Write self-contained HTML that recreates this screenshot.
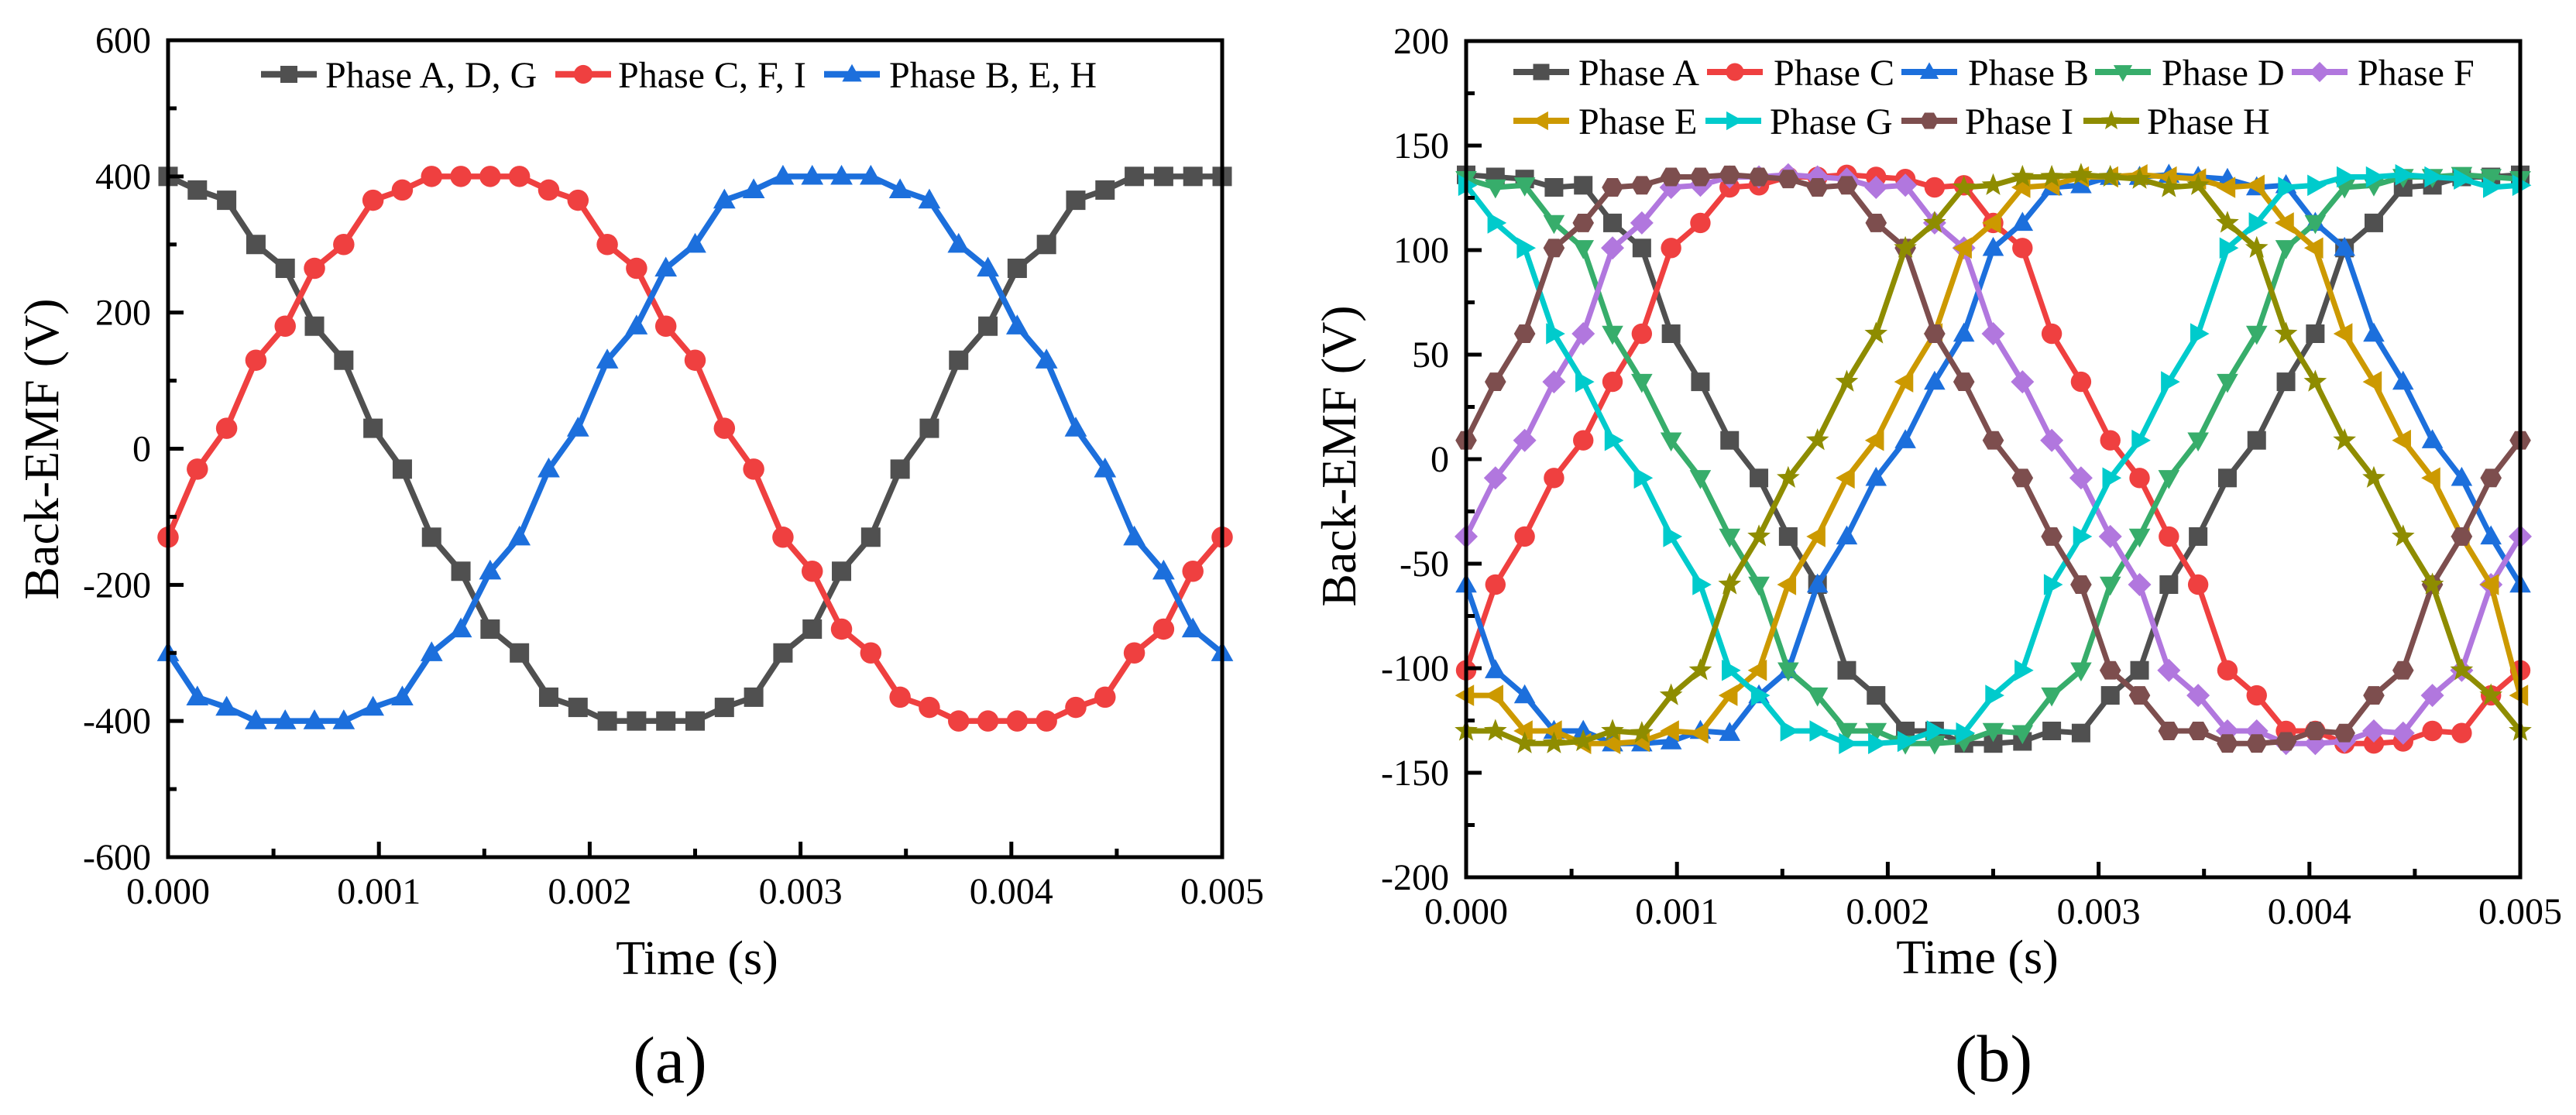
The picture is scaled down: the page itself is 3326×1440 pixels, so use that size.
<!DOCTYPE html>
<html><head><meta charset="utf-8"><style>
html,body{margin:0;padding:0;background:#fff;}
svg{display:block;font-family:"Liberation Serif",serif;}
</style></head><body>
<svg id="fig" width="3326" height="1440" viewBox="0 0 3326 1440" xmlns="http://www.w3.org/2000/svg"></svg>
<script>
// ---------- data ----------
const timeTicks = ["0.000","0.001","0.002","0.003","0.004","0.005"];
const timeTickValues = [0,0.001,0.002,0.003,0.004,0.005];
const leftYTicks = [-600,-400,-200,0,200,400,600];
const rightYTicks = [-200,-150,-100,-50,0,50,100,150,200];
const sampleCount = 37;

// Figure (a)
const aPhaseADG = [400,380,365,300,265,180,130,30,-30,-130,-180,-265,-300,-365,-380,-400,-400,-400,-400,-380,-365,-300,-265,-180,-130,-30,30,130,180,265,300,365,380,400,400,400,400];
const aPhaseCFI = [-130,-30,30,130,180,265,300,365,380,400,400,400,400,380,365,300,265,180,130,30,-30,-130,-180,-265,-300,-365,-380,-400,-400,-400,-400,-380,-365,-300,-265,-180,-130];
const aPhaseBEH = [-300,-365,-380,-400,-400,-400,-400,-380,-365,-300,-265,-180,-130,-30,30,130,180,265,300,365,380,400,400,400,400,380,365,300,265,180,130,30,-30,-130,-180,-265,-300];

// Figure (b)
const bPhaseA = [136,135,134,130,131,113,101,60,37,9,-9,-37,-60,-101,-113,-130,-130,-136,-136,-135,-130,-131,-113,-101,-60,-37,-9,9,37,60,101,113,130,131,135,135,136];
const bPhaseC = [-101,-60,-37,-9,9,37,60,101,113,130,131,135,135,136,135,134,130,131,113,101,60,37,9,-9,-37,-60,-101,-113,-130,-130,-136,-136,-135,-130,-131,-113,-101];
const bPhaseB = [-60,-101,-113,-130,-130,-136,-136,-135,-130,-131,-113,-101,-60,-37,-9,9,37,60,101,113,130,131,135,135,136,135,134,130,131,113,101,60,37,9,-9,-37,-60];
const bPhaseD = [134,130,131,113,101,60,37,9,-9,-37,-60,-101,-113,-130,-130,-136,-136,-135,-130,-131,-113,-101,-60,-37,-9,9,37,60,101,113,130,131,135,135,136,135,134];
const bPhaseF = [-37,-9,9,37,60,101,113,130,131,135,135,136,135,134,130,131,113,101,60,37,9,-9,-37,-60,-101,-113,-130,-130,-136,-136,-135,-130,-131,-113,-101,-60,-37];
const bPhaseE = [-113,-113,-130,-130,-136,-136,-135,-130,-131,-113,-101,-60,-37,-9,9,37,60,101,113,130,131,135,135,136,135,134,130,131,113,101,60,37,9,-9,-37,-60,-113];
const bPhaseG = [131,113,101,60,37,9,-9,-37,-60,-101,-113,-130,-130,-136,-136,-135,-130,-131,-113,-101,-60,-37,-9,9,37,60,101,113,130,131,135,135,136,135,134,130,131];
const bPhaseI = [9,37,60,101,113,130,131,135,135,136,135,134,130,131,113,101,60,37,9,-9,-37,-60,-101,-113,-130,-130,-136,-136,-135,-130,-131,-113,-101,-60,-37,-9,9];
const bPhaseH = [-130,-130,-136,-136,-135,-130,-131,-113,-101,-60,-37,-9,9,37,60,101,113,130,131,135,135,136,135,134,130,131,113,101,60,37,9,-9,-37,-60,-101,-113,-130];

// ---------- helpers ----------
const NS = "http://www.w3.org/2000/svg";
const fig = document.getElementById("fig");
function mk(tag, attrs, parent){
  const e = document.createElementNS(NS, tag);
  for (const k in attrs) e.setAttribute(k, attrs[k]);
  (parent||fig).appendChild(e);
  return e;
}
function marker(g, shape, x, y, s, color){
  let e;
  const h = s/2;
  if (shape==="square") e = mk("rect",{x:x-h,y:y-h,width:s,height:s,fill:color},g);
  else if (shape==="circle") e = mk("circle",{cx:x,cy:y,r:h*1.1,fill:color},g);
  else if (shape==="up") e = mk("polygon",{points:`${x},${y-h*1.2} ${x-h*1.15},${y+h*0.85} ${x+h*1.15},${y+h*0.85}`,fill:color},g);
  else if (shape==="down") e = mk("polygon",{points:`${x},${y+h*1.2} ${x-h*1.15},${y-h*0.85} ${x+h*1.15},${y-h*0.85}`,fill:color},g);
  else if (shape==="diamond") e = mk("polygon",{points:`${x},${y-h*1.25} ${x+h*1.25},${y} ${x},${y+h*1.25} ${x-h*1.25},${y}`,fill:color},g);
  else if (shape==="left") e = mk("polygon",{points:`${x-h*1.2},${y} ${x+h*0.85},${y-h*1.15} ${x+h*0.85},${y+h*1.15}`,fill:color},g);
  else if (shape==="right") e = mk("polygon",{points:`${x+h*1.2},${y} ${x-h*0.85},${y-h*1.15} ${x-h*0.85},${y+h*1.15}`,fill:color},g);
  else if (shape==="hex"){
    let p=[]; for(let k=0;k<6;k++){const a=Math.PI/3*k; p.push((x+h*1.15*Math.cos(a))+","+(y+h*1.15*Math.sin(a)));}
    e = mk("polygon",{points:p.join(" "),fill:color},g);
  } else if (shape==="star"){
    let p=[]; for(let k=0;k<10;k++){const a=-Math.PI/2+Math.PI/5*k; const r=(k%2?h*0.55:h*1.3); p.push((x+r*Math.cos(a))+","+(y+r*Math.sin(a)));}
    e = mk("polygon",{points:p.join(" "),fill:color},g);
  }
  
  
  return e;
}

function drawChart(cfg){
  const {L,T,R,B,ymin,ymax,yTicks,yMinorStep,series,legend,tag,panelLabel,panelX,panelY,titleX,titleY,ytitleX,ytitleY,lw,ms} = cfg;
  const g = mk("g",{});
  
  
  const xs = t => L + (t-0)/(0.005)*(R-L);
  const ys = v => B - (v-ymin)/(ymax-ymin)*(B-T);

  series.forEach(s=>{
    const sg = mk("g",{},g);
    
    
    const pts = s.values.map((v,i)=>xs(i*0.005/(sampleCount-1))+","+ys(v)).join(" ");
    const pl = mk("polyline",{points:pts,fill:"none",stroke:s.color,"stroke-width":lw,"stroke-linejoin":"round"},sg);
    
    
    s.values.forEach((v,i)=>marker(sg,s.shape,xs(i*0.005/(sampleCount-1)),ys(v),ms,s.color));
  });
  const fr = mk("rect",{x:L,y:T,width:R-L,height:B-T,fill:"none",stroke:"#000","stroke-width":5},g);
  
  
  for (let v=ymin; v<=ymax+1e-9; v+=yMinorStep){
    const major = yTicks.some(t=>Math.abs(t-v)<1e-9);
    const tk = mk("line",{x1:L,x2:L+(major?20:11),y1:ys(v),y2:ys(v),stroke:"#000","stroke-width":5},g);
    
    
  }
  yTicks.forEach(v=>{
    const t = mk("text",{x:L-22,y:ys(v)+16,"text-anchor":"end","font-size":48},g);
    t.textContent = v;
    
    
  });
  for (let k=0;k<=10;k++){
    const t = k*0.0005;
    const major = k%2===0;
    const tk = mk("line",{x1:xs(t),x2:xs(t),y1:B,y2:B-(major?20:11),stroke:"#000","stroke-width":5},g);
    
    
  }
  timeTickValues.forEach((v,i)=>{
    const t = mk("text",{x:xs(v),y:B+60,"text-anchor":"middle","font-size":48},g);
    t.textContent = timeTicks[i];
    
    
  });
  const xt = mk("text",{x:titleX,y:titleY,"text-anchor":"middle","font-size":62},g);
  xt.textContent = "Time (s)";
  
  
  const yt = mk("text",{x:0,y:0,"text-anchor":"middle","font-size":64,transform:`translate(${ytitleX} ${ytitleY}) rotate(-90)`},g);
  yt.textContent = "Back-EMF (V)";
  
  
  const pl = mk("text",{x:panelX,y:panelY,"text-anchor":"middle","font-size":86},g);
  pl.textContent = panelLabel;
  
  
  const lg = mk("g",{},g);
  
  
  legend.forEach(e=>{
    const s = series[e.idx];
    const eg = mk("g",{},lg);
    
    
    mk("line",{x1:e.x,x2:e.x+72,y1:e.y,y2:e.y,stroke:s.color,"stroke-width":lw+1},eg);
    marker(eg,s.shape,e.x+36,e.y,ms-3,s.color);
    const t = mk("text",{x:e.tx,y:e.y+17,"font-size":48},eg);
    t.textContent = s.name;
    
    
  });
}

drawChart({
  tag:"a", L:217, T:52, R:1578, B:1107, ymin:-600, ymax:600, yTicks:leftYTicks, yMinorStep:100,
  lw:7.5, ms:25,
  series:[
    {name:"Phase A, D, G", values:aPhaseADG, color:"#505050", shape:"square"},
    {name:"Phase C, F, I", values:aPhaseCFI, color:"#EF4040", shape:"circle"},
    {name:"Phase B, E, H", values:aPhaseBEH, color:"#1C6FDC", shape:"up"}
  ],
  legend:[{idx:0,x:337,tx:420,y:96},{idx:1,x:717,tx:798,y:96},{idx:2,x:1064,tx:1148,y:96}],
  titleX:900, titleY:1258, ytitleX:75, ytitleY:580, panelLabel:"(a)", panelX:865, panelY:1398
});

drawChart({
  tag:"b", L:1893, T:53, R:3254, B:1133, ymin:-200, ymax:200, yTicks:rightYTicks, yMinorStep:25,
  lw:7, ms:24,
  series:[
    {name:"Phase A", values:bPhaseA, color:"#505050", shape:"square"},
    {name:"Phase C", values:bPhaseC, color:"#EF4040", shape:"circle"},
    {name:"Phase B", values:bPhaseB, color:"#1C6FDC", shape:"up"},
    {name:"Phase D", values:bPhaseD, color:"#37AD6B", shape:"down"},
    {name:"Phase F", values:bPhaseF, color:"#B177DE", shape:"diamond"},
    {name:"Phase E", values:bPhaseE, color:"#CC9900", shape:"left"},
    {name:"Phase G", values:bPhaseG, color:"#00CBCC", shape:"right"},
    {name:"Phase I", values:bPhaseI, color:"#7D4E4E", shape:"hex"},
    {name:"Phase H", values:bPhaseH, color:"#8E8C00", shape:"star"}
  ],
  legend:[
    {idx:0,x:1954,tx:2038,y:93},{idx:1,x:2204,tx:2290,y:93},{idx:2,x:2455,tx:2541,y:93},
    {idx:3,x:2705,tx:2791,y:93},{idx:4,x:2959,tx:3044,y:93},
    {idx:5,x:1954,tx:2038,y:156},{idx:6,x:2202,tx:2285,y:156},{idx:7,x:2455,tx:2537,y:156},
    {idx:8,x:2690,tx:2772,y:156}
  ],
  titleX:2553, titleY:1257, ytitleX:1750, ytitleY:589, panelLabel:"(b)", panelX:2574, panelY:1396
});
</script>
</body></html>
